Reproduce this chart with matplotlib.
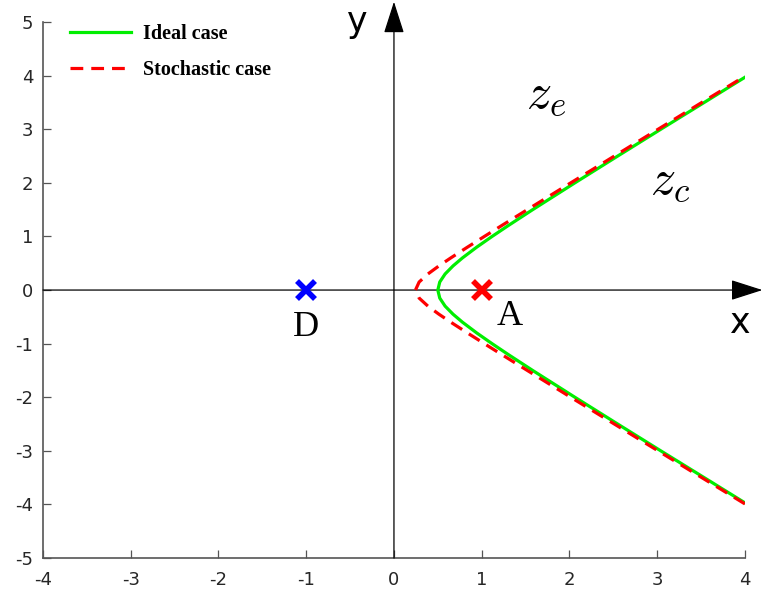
import matplotlib
matplotlib.use('Agg')
import matplotlib.pyplot as plt

plt.rcParams['axes.unicode_minus'] = False
plt.rcParams['mathtext.fontset'] = 'cm'

# boundary points (x, y) for the two cases
ideal_y = [-3.97, -3.5, -3.0, -2.5, -2.0, -1.5, -1.2, -1.0, -0.8, -0.6, -0.45, -0.3, -0.15, 0.0,
           0.15, 0.3, 0.45, 0.6, 0.8, 1.0, 1.2, 1.5, 2.0, 2.5, 3.0, 3.5, 3.97]
ideal_x = [4.0, 3.536, 3.041, 2.550, 2.062, 1.581, 1.300, 1.118, 0.943, 0.781, 0.673, 0.583, 0.522, 0.5,
           0.522, 0.583, 0.673, 0.781, 0.943, 1.118, 1.300, 1.581, 2.062, 2.550, 3.041, 3.536, 4.0]

stoch_y = [-3.99, -3.5, -3.0, -2.5, -2.0, -1.5, -1.2, -1.0, -0.8, -0.6, -0.45, -0.3, -0.15, 0.0,
           0.15, 0.3, 0.45, 0.6, 0.8, 1.0, 1.2, 1.5, 2.0, 2.5, 3.0, 3.5, 3.99]
stoch_x = [4.0, 3.509, 3.010, 2.512, 2.015, 1.520, 1.225, 1.030, 0.837, 0.648, 0.512, 0.387, 0.287, 0.245,
           0.287, 0.387, 0.512, 0.648, 0.837, 1.030, 1.225, 1.520, 2.015, 2.512, 3.010, 3.509, 4.0]

point_d = (-1, 0)
point_a = (1, 0)

x_ticks = [-4, -3, -2, -1, 0, 1, 2, 3, 4]
y_ticks = [-5, -4, -3, -2, -1, 0, 1, 2, 3, 4, 5]

fig = plt.figure(figsize=(7.64, 5.97), dpi=100)
ax = fig.add_axes([0.0563, 0.0653, 0.9187, 0.8977])

# coordinate axes with arrows
arrow = dict(arrowstyle='-|>,head_length=1.0,head_width=0.32', color='black',
             lw=0.9, mutation_scale=20, shrinkA=0, shrinkB=0)
ax.annotate('', xy=(4.2, 0), xytext=(-4, 0), arrowprops=arrow, annotation_clip=False)
ax.annotate('', xy=(0, 5.38), xytext=(0, -5), arrowprops=arrow, annotation_clip=False)

ax.plot(ideal_x, ideal_y, color='#00ee00', lw=2.3, label='Ideal case', zorder=3)
ax.plot(stoch_x, stoch_y, color='red', lw=2.3, ls=(0, (4, 2.5)), label='Stochastic case', zorder=4)

ax.plot(*point_d, marker='x', color='blue', ms=13, mew=4, zorder=5)
ax.plot(*point_a, marker='x', color='red', ms=13, mew=4, zorder=5)

ax.text(-1, -0.7, 'D', fontsize=26, family='Liberation Serif', ha='center', va='center')
ax.text(1.32, -0.5, 'A', fontsize=26, family='Liberation Serif', ha='center', va='center')
ax.text(1.74, 3.65, r'$z_e$', fontsize=36, ha='center', va='center')
ax.text(3.15, 2.05, r'$z_c$', fontsize=36, ha='center', va='center')
ax.text(-0.42, 5.0, 'y', fontsize=25, ha='center', va='center', clip_on=False)
ax.text(3.95, -0.62, 'x', fontsize=25, ha='center', va='center')

ax.set_xlim(-4, 4)
ax.set_ylim(-5, 5)
ax.set_xticks(x_ticks)
ax.set_yticks(y_ticks)
ax.tick_params(direction='in', length=6, width=0.9, color='#555555',
               labelcolor='#262626', labelsize=13)
ax.tick_params(axis='x', pad=9)
ax.tick_params(axis='y', pad=7)
for side in ['top', 'right']:
    ax.spines[side].set_visible(False)
for side in ['left', 'bottom']:
    ax.spines[side].set_color('#555555')
    ax.spines[side].set_linewidth(1.2)

ax.legend(loc='upper left', bbox_to_anchor=(0.013, 1.03), frameon=False,
          handlelength=3.0, handletextpad=0.6, labelspacing=0.8,
          prop={'family': 'Liberation Serif', 'weight': 'bold', 'size': 14.5})

fig.savefig('out.png', dpi=100)
